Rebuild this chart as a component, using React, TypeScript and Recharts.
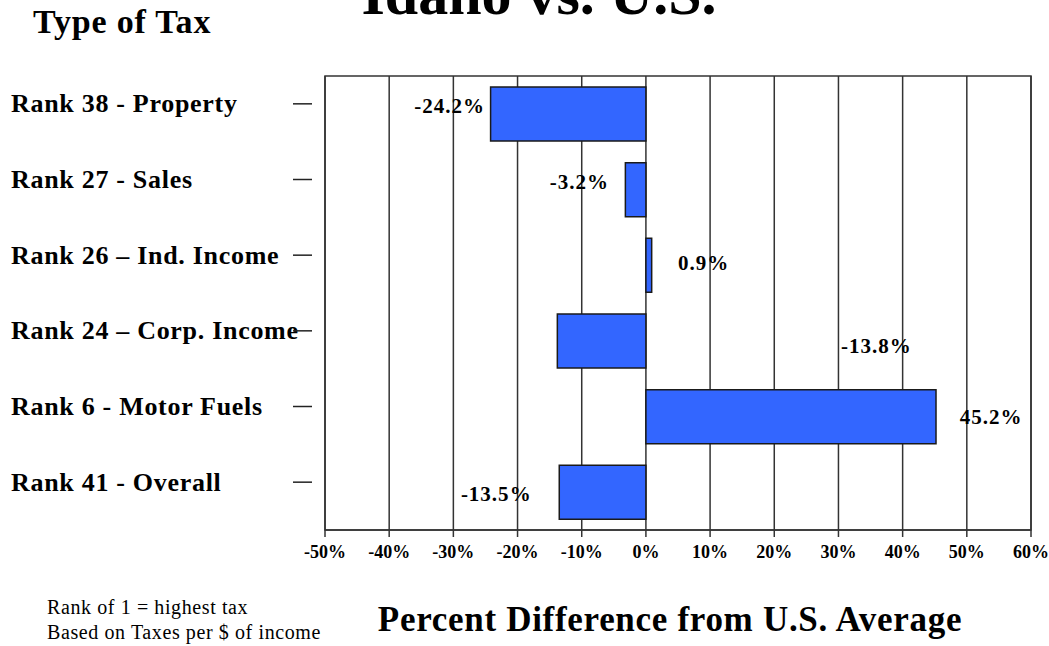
import React from 'react';
import {
  BarChart,
  Bar,
  XAxis,
  YAxis,
  CartesianGrid,
  ReferenceArea,
  LabelList,
} from 'recharts';

const TAX_TYPES = [
  'Rank 38 - Property',
  'Rank 27 - Sales',
  'Rank 26 – Ind. Income',
  'Rank 24 – Corp. Income',
  'Rank 6 - Motor Fuels',
  'Rank 41 - Overall',
];

const PCT_DIFF = [-24.2, -3.2, 0.9, -13.8, 45.2, -13.5];

const X_TICKS = [-50, -40, -30, -20, -10, 0, 10, 20, 30, 40, 50, 60];

const rows = TAX_TYPES.map((label, i) => ({ label, diff: PCT_DIFF[i] }));

// label nudges relative to the bar end, the original labels sit a bit off
const LABEL_NUDGE = [
  { dx: -41, dy: -8 },
  { dx: -46, dy: -8 },
  { dx: 52, dy: -2 },
  { dx: 319, dy: 5 },
  { dx: 55, dy: 0 },
  { dx: -63, dy: 2 },
];

const SERIF = '"Liberation Serif", "Times New Roman", serif';
const LINE = '#333';

function CategoryTick(props: any) {
  const { x, y, payload } = props;
  return (
    <g>
      <text
        x={x - 314}
        y={y - 10}
        dominantBaseline="central"
        fontSize={26}
        fontWeight="bold"
        letterSpacing={0.7}
        fill="#000"
      >
        {payload.value}
      </text>
      <line x1={x - 32} x2={x - 13} y1={y - 10} y2={y - 10} stroke="#222" strokeWidth={1.5} />
    </g>
  );
}

function ValueLabel(props: any) {
  const vb = props.viewBox || props;
  const { x, y, width, height } = vb;
  const value = Number(props.value);
  const end = value < 0 ? Math.min(x, x + width) : Math.max(x, x + width);
  const n = LABEL_NUDGE[props.index] || { dx: 0, dy: 0 };
  return (
    <text
      x={end + n.dx}
      y={y + height / 2 + n.dy}
      textAnchor="middle"
      dominantBaseline="central"
      fontSize={21}
      fontWeight="bold"
      letterSpacing={1}
      fill="#000"
    >
      {value.toFixed(1)}%
    </text>
  );
}

export default function App() {
  return (
    <div style={{ position: 'absolute', left: 0, top: 0, width: 1049, height: 646, background: '#fff' }}>
      <BarChart
        width={1049}
        height={646}
        data={rows}
        layout="vertical"
        barCategoryGap="14.5%"
        margin={{ top: 76, right: 18, left: 25, bottom: 76 }}
        style={{ fontFamily: SERIF }}
      >
        <CartesianGrid horizontal={false} stroke={LINE} strokeWidth={1.5} />
        <XAxis
          type="number"
          domain={[-50, 60]}
          ticks={X_TICKS}
          tickFormatter={(v: number) => `${v}%`}
          stroke={LINE}
          strokeWidth={1.5}
          tickSize={7}
          tickMargin={8}
          height={40}
          tick={{ fontSize: 18, fontWeight: 'bold', fill: '#000', fontFamily: SERIF }}
        />
        <YAxis
          type="category"
          dataKey="label"
          width={300}
          axisLine={false}
          tickLine={false}
          tickSize={0}
          tickMargin={0}
          tick={<CategoryTick />}
        />
        <ReferenceArea x1={-50} x2={60} fill="none" fillOpacity={0} stroke={LINE} strokeWidth={1.5} />
        <Bar dataKey="diff" fill="#3366FF" stroke="#1a1a1a" strokeWidth={1.5} isAnimationActive={false}>
          <LabelList dataKey="diff" content={<ValueLabel />} />
        </Bar>
      </BarChart>

      <svg
        width={1049}
        height={646}
        style={{ position: 'absolute', left: 0, top: 0, pointerEvents: 'none', fontFamily: SERIF }}
      >
        <text x={539} y={14} textAnchor="middle" fontSize={60} fontWeight="bold" fill="#000">
          Idaho vs. U.S.
        </text>
        <text x={33} y={33} fontSize={34} fontWeight="bold" letterSpacing={0.8} fill="#000">
          Type of Tax
        </text>
        <text x={670} y={631} textAnchor="middle" fontSize={35} fontWeight="bold" letterSpacing={0.7} fill="#000">
          Percent Difference from U.S. Average
        </text>
        <text x={47} y={614} fontSize={20} letterSpacing={0.6} fill="#000">
          Rank of 1 = highest tax
        </text>
        <text x={47} y={639} fontSize={20} letterSpacing={0.6} fill="#000">
          Based on Taxes per $ of income
        </text>
      </svg>
    </div>
  );
}
